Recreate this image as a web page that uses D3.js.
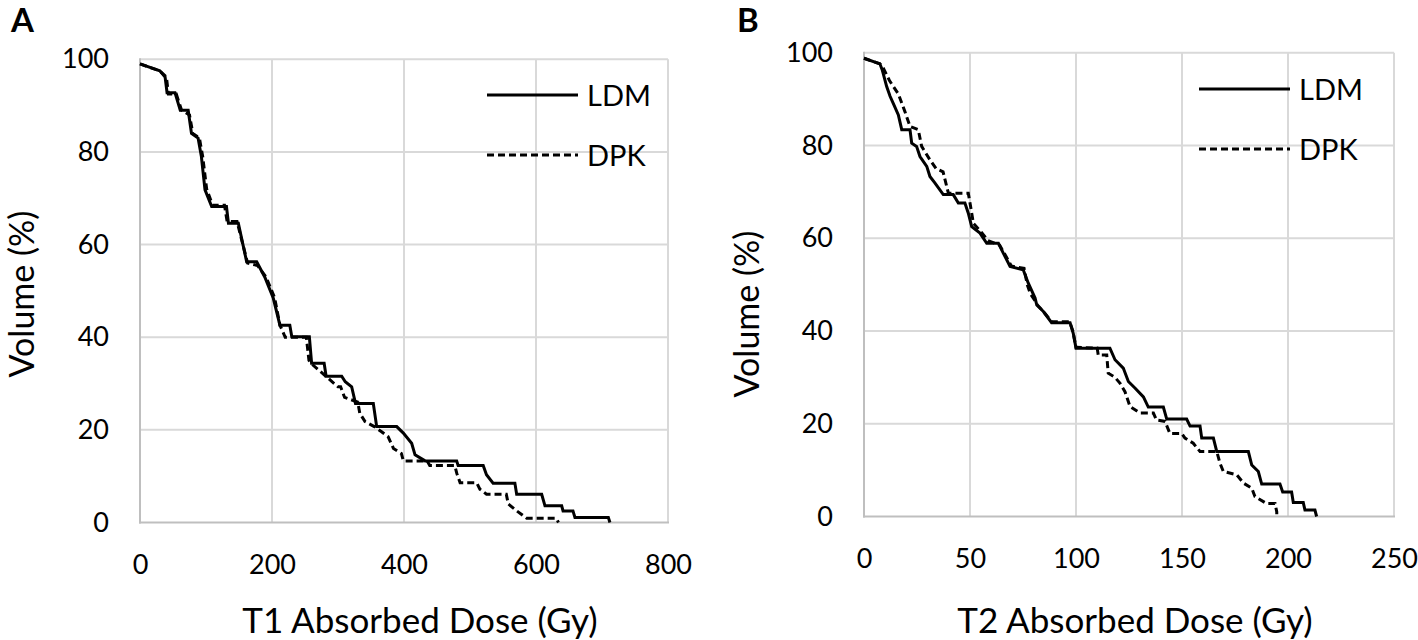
<!DOCTYPE html>
<html>
<head>
<meta charset="utf-8">
<script src="https://cdn.jsdelivr.net/npm/d3@7"></script>
<style>
  html, body { margin: 0; padding: 0; background: #fff; }
  svg { display: block; font-family: Lato, "Open Sans", sans-serif; }
</style>
</head>
<body>
<svg id="chart" width="1418" height="640"></svg>
<script>
// ---------- Data ----------
const yTicks = [0, 20, 40, 60, 80, 100];
const xTicksA = [0, 200, 400, 600, 800];
const xTicksB = [0, 50, 100, 150, 200, 250];
const seriesNames = ["LDM", "DPK"];

// Panel A – T1
const aLdmDose = [0, 30, 38, 41, 53, 61, 73, 78, 88, 93, 98.5, 108.6, 131, 134, 149, 161.6, 176.8, 189, 202, 212, 227, 230, 256.6, 260, 279, 282, 305.6, 311, 320.7, 326.5, 353.5, 358.6, 389, 399, 411.6, 416.7, 432, 479.8, 482, 520, 525, 535, 568, 570.7, 608.6, 613.6, 638.9, 641, 656, 659, 709.6, 712];
const aLdmVol  = [99, 97.5, 96.2, 92.8, 92.8, 89, 89, 84, 83, 79, 71.8, 68.2, 68.2, 64.6, 64.6, 56.3, 56.3, 53, 48.4, 42.6, 42.6, 40.1, 40.1, 34.4, 34.4, 31.6, 31.6, 30.4, 29.3, 25.7, 25.7, 20.7, 20.7, 19.3, 17.1, 14.6, 13.3, 13.3, 12.3, 12.3, 10.3, 8.5, 8.5, 6.1, 6.1, 3.6, 3.6, 2.5, 2.5, 1.1, 1.1, 0];
const aDpkDose = [0, 30, 40, 43, 55, 63, 75, 80, 90, 95, 101, 110, 128, 132, 147, 163, 178, 191, 204, 212, 217, 220, 252, 256, 262, 270, 300, 304, 310, 330, 333, 341, 355, 366, 376, 384, 396, 399, 435, 439, 477, 480, 485, 510, 515, 525, 555, 558, 571, 586, 631, 634];
const aDpkVol  = [99, 97.5, 96.2, 92.5, 92.5, 89, 88, 84, 83, 79, 72, 68.5, 68.5, 65, 65, 56, 55.5, 53, 48.5, 42.6, 41, 40, 40, 35, 34, 33, 29.3, 29.3, 27, 26, 23.6, 21.8, 20.7, 19.6, 18.5, 16, 14.9, 13.3, 13.3, 12.3, 12.3, 10.6, 8.6, 8.6, 7.2, 6.1, 6.1, 4, 2.5, 0.9, 0.9, 0];

// Panel B – T2
const bLdmDose = [0, 7.5, 8.6, 10.7, 12.3, 13.8, 16.2, 17.8, 21.7, 22.5, 24.8, 26.4, 29.6, 31.1, 33.5, 37.4, 42.1, 44.5, 47.6, 49.2, 50.8, 54.7, 57.9, 63.4, 65.7, 68.9, 75.1, 77.5, 80.7, 81.5, 84.6, 88.5, 97.2, 98.7, 100, 116, 118.4, 122.3, 124.7, 127.8, 131.8, 134.1, 141.2, 142.8, 152.2, 153.8, 158.5, 159.3, 164.8, 166.4, 181.3, 182.9, 186, 187.6, 196.2, 197.5, 201.7, 202.5, 207.2, 208, 212.7, 213.5];
const bLdmVol  = [98.8, 97.6, 96.3, 92.7, 90.6, 89.1, 86.6, 83.4, 83.4, 80.5, 79.8, 77.6, 75.5, 73.3, 71.9, 69.4, 69.4, 67.6, 67.6, 65.4, 62.5, 61.1, 58.9, 58.9, 56.8, 53.9, 53.2, 50.3, 47.1, 45.6, 44.2, 41.8, 41.8, 39.5, 36.3, 36.3, 33.8, 32, 29.1, 27.7, 25.8, 23.6, 23.6, 21, 21, 19.5, 19.5, 16.9, 16.9, 14, 14, 11.1, 9.7, 7, 7, 5.3, 5.3, 3, 3, 1.4, 1.4, 0];
const bDpkDose = [0, 7.5, 9.1, 12, 16.2, 19.3, 21.7, 25.6, 27.2, 31.1, 34, 37.3, 39.8, 49.2, 50, 51.6, 55, 58.5, 64, 66.5, 69.5, 75.5, 77, 78.5, 80.7, 82, 85, 88.5, 97, 98.5, 100, 110, 110.5, 114.5, 115.2, 118.4, 120.8, 123.1, 125.5, 130.2, 136.5, 138, 142, 144.3, 149.9, 151.4, 155.3, 158.5, 166.4, 167.9, 169.5, 175.8, 179, 182.9, 184.4, 189.9, 193.9, 194.7, 194.7];
const bDpkVol  = [98.8, 97.6, 96.7, 94, 91.1, 87.3, 84.1, 83.4, 79.8, 76.9, 75, 74.3, 69.7, 69.7, 67.6, 63.2, 61.5, 59.5, 58.5, 56.5, 54, 53.5, 50, 48, 46.5, 45.5, 44, 42, 42, 40, 36.5, 36.3, 34.8, 34.8, 30.9, 30, 28.7, 26.9, 23.7, 22.3, 22.3, 20.8, 20.5, 17.9, 17.9, 16.9, 15.8, 14, 14, 11.5, 9.7, 9, 7.2, 6.1, 4.3, 2.8, 2.8, 1, 0.5];

// ---------- Drawing ----------
const svg = d3.select("#chart");
const GRID = "#d9d9d9", AXIS = "#bfbfbf";
const TICK_FONT = 27, TITLE_FONT = 35, YTITLE_FONT = 34, LEG_FONT = 29;

function panel(cfg) {
  const x = d3.scaleLinear().domain(cfg.xDomain).range(cfg.xRange);
  const y = d3.scaleLinear().domain([0, 100]).range(cfg.yRange);
  const g = svg.append("g");

  // grid
  g.selectAll(".vg").data(cfg.xTicks.filter(d => d !== 0)).join("line")
    .attr("x1", d => x(d)).attr("x2", d => x(d))
    .attr("y1", y(0)).attr("y2", y(100))
    .attr("stroke", GRID).attr("stroke-width", 2);
  g.selectAll(".hg").data(yTicks.filter(d => d !== 0)).join("line")
    .attr("x1", x(cfg.xDomain[0])).attr("x2", x(cfg.xDomain[1]))
    .attr("y1", d => y(d)).attr("y2", d => y(d))
    .attr("stroke", GRID).attr("stroke-width", 2);
  // axis lines
  g.append("line").attr("x1", x(0)).attr("x2", x(0)).attr("y1", y(0) + 1).attr("y2", y(100) - 1)
    .attr("stroke", AXIS).attr("stroke-width", 2);
  g.append("line").attr("x1", x(0) - 1).attr("x2", x(cfg.xDomain[1]) + 1).attr("y1", y(0)).attr("y2", y(0))
    .attr("stroke", AXIS).attr("stroke-width", 2);

  // axes (labels only)
  const xa = g.append("g").attr("transform", `translate(0,${y(0)})`)
    .call(d3.axisBottom(x).tickValues(cfg.xTicks).tickSize(0).tickPadding(32).tickFormat(d3.format("d")));
  const ya = g.append("g").attr("transform", `translate(${x(0)},0)`)
    .call(d3.axisLeft(y).tickValues(yTicks).tickSize(0).tickPadding(31).tickFormat(d3.format("d")));
  [xa, ya].forEach(a => {
    a.select(".domain").remove();
    a.selectAll("text").attr("font-size", TICK_FONT).attr("fill", "#000")
      .attr("font-family", "Lato, 'Open Sans', sans-serif");
  });

  // curves
  const line = d3.line().x(d => x(d[0])).y(d => y(d[1]));
  const series = [
    { name: seriesNames[0], pts: d3.zip(cfg.ldmDose, cfg.ldmVol), dash: null },
    { name: seriesNames[1], pts: d3.zip(cfg.dpkDose, cfg.dpkVol), dash: "7,4" }
  ];
  series.forEach(s => {
    g.append("path").attr("d", line(s.pts)).attr("fill", "none")
      .attr("stroke", "#000").attr("stroke-width", 3)
      .attr("stroke-dasharray", s.dash);
  });

  // legend
  series.forEach((s, i) => {
    const ly = cfg.legY + i * 60;
    g.append("line").attr("x1", cfg.legX).attr("x2", cfg.legX + 91)
      .attr("y1", ly).attr("y2", ly).attr("stroke", "#000").attr("stroke-width", 3)
      .attr("stroke-dasharray", s.dash);
    g.append("text").attr("x", cfg.legX + 100).attr("y", ly + 11)
      .attr("font-size", LEG_FONT).text(s.name);
  });

  // titles
  g.append("text").attr("x", cfg.xTitleX).attr("y", 633).attr("text-anchor", "middle")
    .attr("font-size", TITLE_FONT).text(cfg.xTitle);
  g.append("text").attr("transform", `translate(${cfg.yTitleX},${cfg.yTitleY}) rotate(-90)`)
    .attr("text-anchor", "middle").attr("font-size", YTITLE_FONT).text("Volume (%)");
  g.append("text").attr("x", cfg.letterX).attr("y", 32).attr("font-size", 33)
    .attr("font-weight", "bold").text(cfg.letter);
}

panel({
  xDomain: [0, 800], xRange: [140, 668], yRange: [522.5, 59.3], xTicks: xTicksA,
  ldmDose: aLdmDose, ldmVol: aLdmVol, dpkDose: aDpkDose, dpkVol: aDpkVol,
  legX: 487, legY: 95, xTitle: "T1 Absorbed Dose (Gy)", xTitleX: 420,
  yTitleX: 34, yTitleY: 294, letter: "A", letterX: 11
});
panel({
  xDomain: [0, 250], xRange: [864, 1394], yRange: [516.5, 52.7], xTicks: xTicksB,
  ldmDose: bLdmDose, ldmVol: bLdmVol, dpkDose: bDpkDose, dpkVol: bDpkVol,
  legX: 1199, legY: 89, xTitle: "T2 Absorbed Dose (Gy)", xTitleX: 1135,
  yTitleX: 759, yTitleY: 314, letter: "B", letterX: 737
});
</script>
</body>
</html>
